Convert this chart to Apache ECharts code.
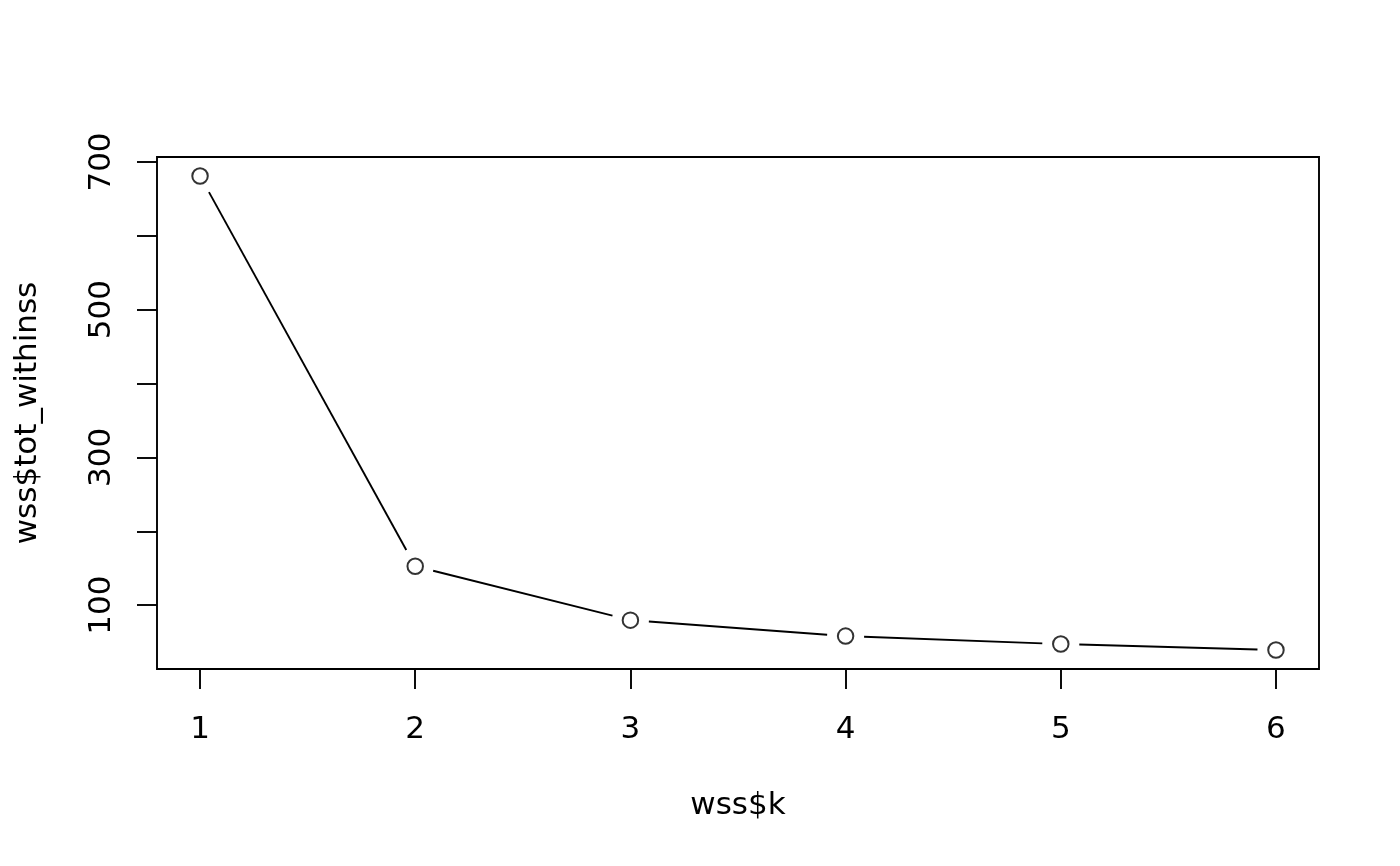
<!DOCTYPE html>
<html>
<head>
<meta charset="utf-8">
<script src="https://cdn.jsdelivr.net/npm/echarts@6/dist/echarts.min.js"></script>
<style>html,body{margin:0;padding:0;background:#fff;}#c{width:1400px;height:866px;}</style>
</head>
<body>
<div id="c"></div>
<script>
var kValues = [1, 2, 3, 4, 5, 6];
var totWithinss = [681.1, 152.7, 79.7, 58.1, 47.3, 39.2];
var xTickValues = [1, 2, 3, 4, 5, 6];
var yTickValues = [100, 200, 300, 400, 500, 600, 700];
var yLabelValues = [100, 300, 500, 700];

function extendRange(arr) {
  var lo = Math.min.apply(null, arr), hi = Math.max.apply(null, arr);
  var d = (hi - lo) * 0.04;
  return [lo - d, hi + d];
}
var xr = extendRange(kValues);
var yr = extendRange(totWithinss);

var points = kValues.map(function (k, i) { return [k, totWithinss[i]]; });
var segments = [];
for (var i = 0; i < kValues.length - 1; i++) {
  segments.push([kValues[i], totWithinss[i], kValues[i + 1], totWithinss[i + 1]]);
}

var FONT = 'DejaVu Sans';
var FS = 31;
var GAP = 18.5;
var LW = 1.9;

var chart = echarts.init(document.getElementById('c'), null, { renderer: 'canvas' });
chart.setOption({
  animation: false,
  backgroundColor: '#fff',
  grid: {
    left: 157, top: 157, width: 1162, height: 512,
    show: true, borderColor: '#000', borderWidth: LW, backgroundColor: 'transparent'
  },
  xAxis: {
    type: 'value', min: xr[0], max: xr[1],
    name: 'wss$k', nameLocation: 'middle', nameGap: 121,
    nameTextStyle: { fontFamily: FONT, fontSize: FS, color: '#000' },
    axisLine: { show: false },
    splitLine: { show: false },
    axisTick: { show: true, length: 20, customValues: xTickValues, lineStyle: { color: '#000', width: LW } },
    axisLabel: { customValues: xTickValues, margin: 45, fontFamily: FONT, fontSize: FS, color: '#000' }
  },
  yAxis: {
    type: 'value', min: yr[0], max: yr[1],
    name: 'wss$tot_withinss', nameLocation: 'middle', nameGap: 114, nameRotate: 90,
    nameTextStyle: { fontFamily: FONT, fontSize: FS, color: '#000' },
    axisLine: { show: false },
    splitLine: { show: false },
    axisTick: { show: true, length: 20, customValues: yTickValues, lineStyle: { color: '#000', width: LW } },
    axisLabel: { customValues: yLabelValues, rotate: 90, margin: 40, fontFamily: FONT, fontSize: FS, color: '#000' }
  },
  series: [
    {
      type: 'custom',
      data: segments,
      encode: { x: [0, 2], y: [1, 3] },
      silent: true,
      z: 2,
      renderItem: function (params, api) {
        var p1 = api.coord([api.value(0), api.value(1)]);
        var p2 = api.coord([api.value(2), api.value(3)]);
        var dx = p2[0] - p1[0], dy = p2[1] - p1[1];
        var L = Math.sqrt(dx * dx + dy * dy);
        if (L <= 2 * GAP) return null;
        var ux = dx / L, uy = dy / L;
        return {
          type: 'line',
          shape: { x1: p1[0] + ux * GAP, y1: p1[1] + uy * GAP, x2: p2[0] - ux * GAP, y2: p2[1] - uy * GAP },
          style: { stroke: '#000', lineWidth: LW }
        };
      }
    },
    {
      type: 'scatter',
      data: points,
      symbol: 'circle',
      symbolSize: 15.5,
      z: 3,
      itemStyle: { color: '#fff', borderColor: '#000', borderWidth: 2 }
    }
  ]
});
</script>
</body>
</html>
